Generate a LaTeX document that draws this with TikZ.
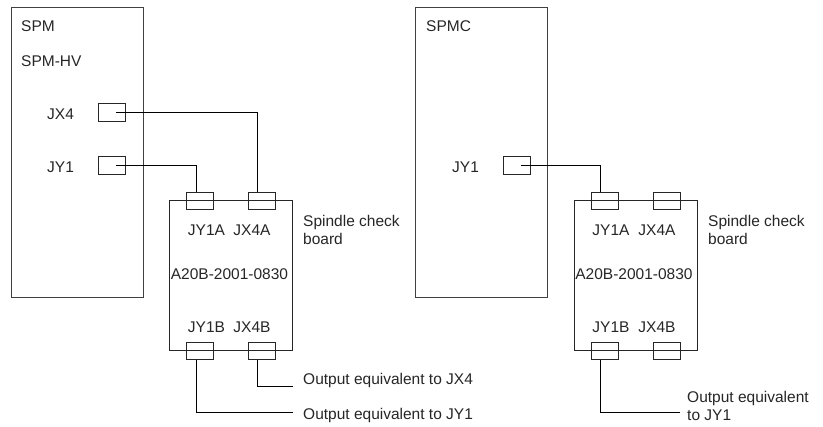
\documentclass[tikz,border=0pt]{standalone}
\usepackage{fontspec}
\setmainfont{Liberation Sans}
\usetikzlibrary{positioning}

\begin{document}
\begin{tikzpicture}[
  x=1pt, y=-1pt,
  node distance = 5pt,
  unitbox/.style  = {draw=black!75, line width=0.9pt, minimum width=132pt,
                     minimum height=290pt, inner sep=0pt},
  boardbox/.style = {draw=black!85, line width=0.9pt, minimum width=123pt,
                     minimum height=150pt, inner sep=0pt},
  portbox/.style  = {draw=black!85, line width=0.9pt, minimum width=26.5pt,
                     minimum height=17.5pt, inner sep=0pt},
  txt/.style      = {font=\fontsize{15.5}{18.3}\selectfont, text=black!85,
                     inner sep=0pt, align=left},
  wire/.style     = {draw=black, line width=0.9pt},
]
\useasboundingbox (0,0) rectangle (823,427);

% =============================================
% LEFT UNIT
% =============================================
\node[unitbox] (spm) at (77,152) {};
\node[txt, anchor=west] (spmname) at (21,26.5) {SPM};
\node[txt, anchor=west] (spmhv)   at (21,61.5) {SPM-HV};
\node[portbox] (spmjxfour) at (112,112.5) {};
\node[portbox] (spmjyone)  at (112,165.5) {};
\node[txt, anchor=west] (spmjxfourtxt) at (47,114.5) {JX4};
\node[txt, anchor=west] (spmjyonetxt)  at (47,167.5) {JY1};

% =============================================
% LEFT BOARD
% =============================================
\node[boardbox] (lboard) at (231,275.5) {};
\node[portbox] (ljya) at (200,200.75) {};
\node[portbox] (ljxa) at (261.75,200.75) {};
\node[portbox] (ljyb) at (200,350.75) {};
\node[portbox] (ljxb) at (261.75,350.75) {};
\node[txt] (ljyatxt) at (206.5,230) {JY1A};
\node[txt] (ljxatxt) at (252,230) {JX4A};
\node[txt] (lparttxt) at (229.5,274) {A20B-2001-0830};
\node[txt] (ljybtxt) at (206.5,327) {JY1B};
\node[txt] (ljxbtxt) at (252,327) {JX4B};
\node[txt, anchor=west] (lchecktxt) at (303,230) {Spindle check\\board};
\node[txt, anchor=west] (loutx) at (303,380) {Output equivalent to JX4};
\node[txt, anchor=west] (louty) at (303,415) {Output equivalent to JY1};

% =============================================
% RIGHT UNIT
% =============================================
\node[unitbox] (spmc) at (481.5,152) {};
\node[txt, anchor=west] (spmcname) at (426,26.5) {SPMC};
\node[portbox] (cjyone) at (517,165.5) {};
\node[txt, anchor=west] (cjyonetxt) at (452,167.5) {JY1};

% =============================================
% RIGHT BOARD
% =============================================
\node[boardbox] (rboard) at (635.5,275.5) {};
\node[portbox] (rjya) at (604.75,200.75) {};
\node[portbox] (rjxa) at (666.75,200.75) {};
\node[portbox] (rjyb) at (604.75,350.75) {};
\node[portbox] (rjxb) at (666.75,350.75) {};
\node[txt] (rjyatxt) at (611,230) {JY1A};
\node[txt] (rjxatxt) at (657,230) {JX4A};
\node[txt] (rparttxt) at (634,274) {A20B-2001-0830};
\node[txt] (rjybtxt) at (611,327) {JY1B};
\node[txt] (rjxbtxt) at (657,327) {JX4B};
\node[txt, anchor=west] (rchecktxt) at (708,230) {Spindle check\\board};
\node[txt, anchor=west] (routy) at (687,406) {Output equivalent\\to JY1};

% =============================================
% WIRES
% =============================================
\coordinate (loutxend) at (293,386);
\coordinate (loutyend) at (293,412);
\coordinate (routyend) at (680,412);
\draw[wire] ([xshift=4pt]spmjxfour.center) -| ([xshift=-4.25pt]ljxa.north);
\draw[wire] ([xshift=4pt]spmjyone.center)  -| ([xshift=-4pt]ljya.north);
\draw[wire] ([xshift=-4.25pt]ljxb.south) |- (loutxend);
\draw[wire] ([xshift=-4pt]ljyb.south)    |- (loutyend);
\draw[wire] ([xshift=4pt]cjyone.center)  -| ([xshift=-4pt]rjya.north);
\draw[wire] ([xshift=-4pt]rjyb.south)    |- (routyend);

\end{tikzpicture}
\end{document}
